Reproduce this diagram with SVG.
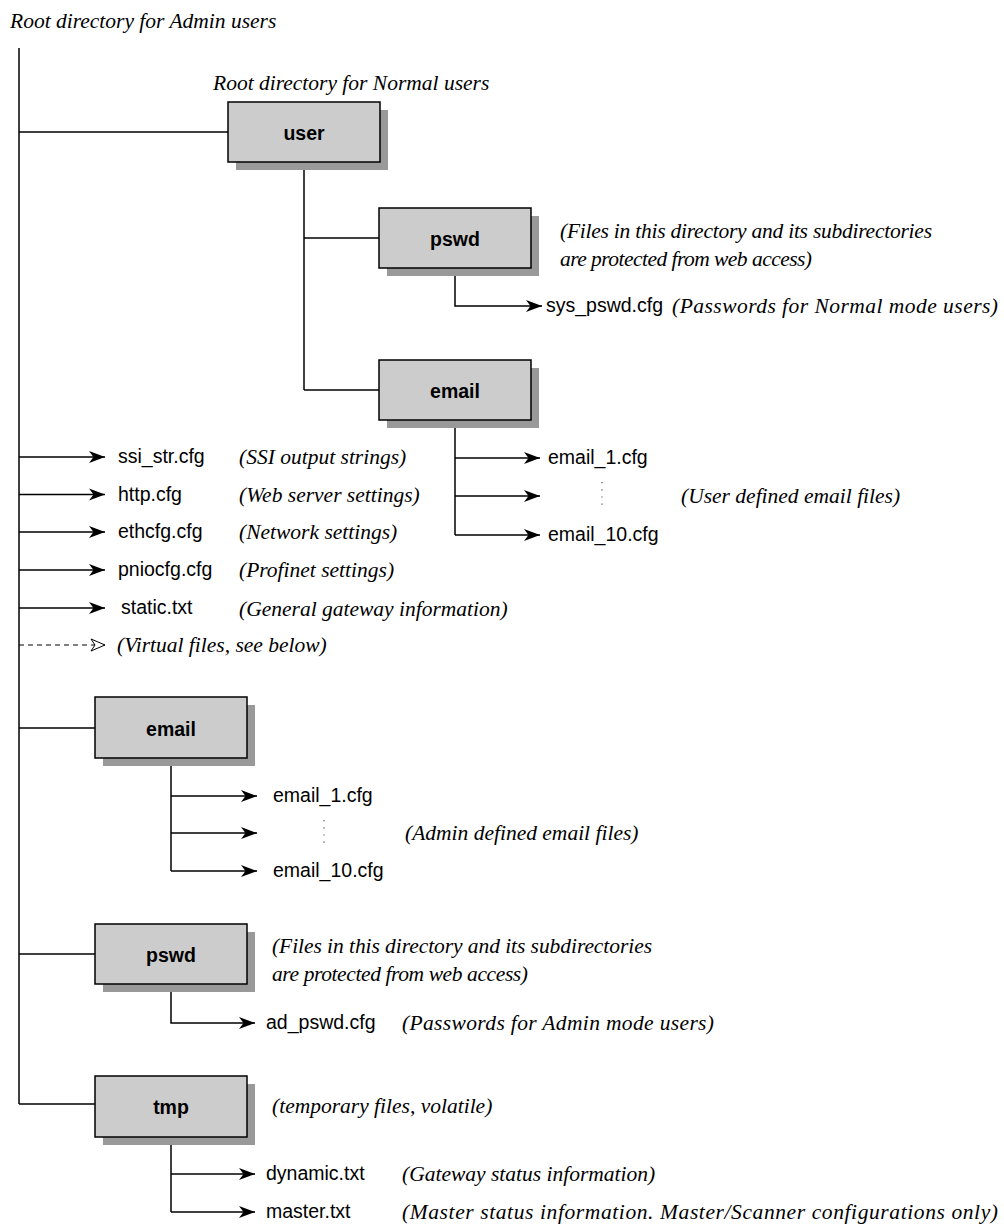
<svg xmlns="http://www.w3.org/2000/svg" width="1004" height="1225" viewBox="0 0 1004 1225">
<style>
.bg{fill:#ffffff}
.ln{stroke:#000;stroke-width:1.5;fill:none}
.arr{stroke:#000;stroke-width:1.5;fill:none;marker-end:url(#ah)}
.dash{stroke:#000;stroke-width:1.2;fill:none;stroke-dasharray:5,4;marker-end:url(#oh)}
.dots{stroke:#555;stroke-width:1.2;stroke-dasharray:1.2,6}
.box{fill:#cccccc;stroke:#000;stroke-width:1.5}
.sh{fill:#999999}
.lbl{font-family:"Liberation Sans",Arial,sans-serif;font-weight:bold;font-size:19.5px;text-anchor:middle;fill:#000}
.f{font-family:"Liberation Sans",Arial,sans-serif;font-size:19.5px;fill:#000}
.c{font-family:"Liberation Serif","Times New Roman",serif;font-style:italic;font-size:21.5px;fill:#000}
</style>
<defs>
<marker id="ah" markerUnits="userSpaceOnUse" markerWidth="16" markerHeight="13" viewBox="0 0 16 13" refX="16" refY="6.5" orient="auto">
<path d="M0,0.5 L16,6.5 L0,12.5 L4.5,6.5 Z" fill="#000"/>
</marker>
<marker id="oh" markerUnits="userSpaceOnUse" markerWidth="16" markerHeight="14" viewBox="0 0 16 14" refX="15" refY="7" orient="auto">
<path d="M1,1 L15,7 L1,13 L5,7 Z" fill="#fff" stroke="#000" stroke-width="1"/>
</marker>
</defs>
<rect class="bg" x="0" y="0" width="1004" height="1225"/>

<g id="titles">
<text class="c" x="10" y="28">Root directory for Admin users</text>
<text class="c" x="213" y="90">Root directory for Normal users</text>
</g>

<g id="connectors">
<path class="ln" d="M19,48 V1104"/>
<path class="ln" d="M19,132 H228"/>
<path class="ln" d="M304,162 V390"/>
<path class="ln" d="M304,238 H379"/>
<path class="ln" d="M304,390 H379"/>
<path class="arr" d="M455,268 V306 H542"/>
<path class="ln" d="M455,420 V535"/>
<path class="arr" d="M455,458 H540"/>
<path class="arr" d="M455,496 H540"/>
<path class="arr" d="M455,535 H540"/>
<path class="arr" d="M19,457 H105"/>
<path class="arr" d="M19,494.5 H105"/>
<path class="arr" d="M19,532 H105"/>
<path class="arr" d="M19,570 H105"/>
<path class="arr" d="M19,608 H105"/>
<path class="dash" d="M19,645 H105"/>
<path class="ln" d="M19,728 H95"/>
<path class="ln" d="M171,758 V871"/>
<path class="arr" d="M171,796 H257"/>
<path class="arr" d="M171,833 H257"/>
<path class="arr" d="M171,871 H257"/>
<path class="ln" d="M19,954 H95"/>
<path class="arr" d="M171,984 V1023 H255"/>
<path class="ln" d="M19,1104 H95"/>
<path class="ln" d="M171,1137 V1212"/>
<path class="arr" d="M171,1174 H255"/>
<path class="arr" d="M171,1212 H255"/>
</g>

<g id="node-user">
<rect class="sh" x="236" y="110" width="152" height="60"/>
<rect class="box" x="228" y="102" width="152" height="60"/>
<text class="lbl" x="304" y="140">user</text>
</g>

<g id="node-user-pswd">
<rect class="sh" x="387" y="216" width="152" height="60"/>
<rect class="box" x="379" y="208" width="152" height="60"/>
<text class="lbl" x="455" y="246">pswd</text>
<text class="c" x="560" y="238" textLength="372" lengthAdjust="spacing">(Files in this directory and its subdirectories</text>
<text class="c" x="560" y="266" textLength="252" lengthAdjust="spacing">are protected from web access)</text>
</g>

<g id="file-sys-pswd">
<text class="f" x="546" y="312">sys_pswd.cfg</text>
<text class="c" x="672" y="313" textLength="326" lengthAdjust="spacing">(Passwords for Normal mode users)</text>
</g>

<g id="node-user-email">
<rect class="sh" x="387" y="368" width="152" height="60"/>
<rect class="box" x="379" y="360" width="152" height="60"/>
<text class="lbl" x="455" y="398">email</text>
</g>

<g id="files-user-email">
<text class="f" x="548" y="464">email_1.cfg</text>
<path class="dots" d="M602,482 V508"/>
<text class="c" x="681" y="503">(User defined email files)</text>
<text class="f" x="548" y="541">email_10.cfg</text>
</g>

<g id="files-root">
<text class="f" x="118" y="463">ssi_str.cfg</text>
<text class="c" x="239" y="464">(SSI output strings)</text>
<text class="f" x="118" y="500.5">http.cfg</text>
<text class="c" x="239" y="501.5">(Web server settings)</text>
<text class="f" x="118" y="538">ethcfg.cfg</text>
<text class="c" x="239" y="539">(Network settings)</text>
<text class="f" x="118" y="576">pniocfg.cfg</text>
<text class="c" x="239" y="577">(Profinet settings)</text>
<text class="f" x="121" y="614">static.txt</text>
<text class="c" x="239" y="616">(General gateway information)</text>
<text class="c" x="117" y="652">(Virtual files, see below)</text>
</g>

<g id="node-admin-email">
<rect class="sh" x="103" y="705" width="152" height="61"/>
<rect class="box" x="95" y="697" width="152" height="61"/>
<text class="lbl" x="171" y="736">email</text>
</g>

<g id="files-admin-email">
<text class="f" x="273" y="802">email_1.cfg</text>
<path class="dots" d="M324,820 V846"/>
<text class="c" x="405" y="840">(Admin defined email files)</text>
<text class="f" x="273" y="877">email_10.cfg</text>
</g>

<g id="node-admin-pswd">
<rect class="sh" x="103" y="932" width="152" height="60"/>
<rect class="box" x="95" y="924" width="152" height="60"/>
<text class="lbl" x="171" y="962">pswd</text>
<text class="c" x="272" y="953" textLength="380" lengthAdjust="spacing">(Files in this directory and its subdirectories</text>
<text class="c" x="272" y="981" textLength="256" lengthAdjust="spacing">are protected from web access)</text>
</g>

<g id="file-ad-pswd">
<text class="f" x="266" y="1029">ad_pswd.cfg</text>
<text class="c" x="402" y="1030" textLength="312" lengthAdjust="spacing">(Passwords for Admin mode users)</text>
</g>

<g id="node-tmp">
<rect class="sh" x="103" y="1084" width="152" height="61"/>
<rect class="box" x="95" y="1076" width="152" height="61"/>
<text class="lbl" x="171" y="1114">tmp</text>
<text class="c" x="272" y="1113">(temporary files, volatile)</text>
</g>

<g id="files-tmp">
<text class="f" x="266" y="1180">dynamic.txt</text>
<text class="c" x="402" y="1181">(Gateway status information)</text>
<text class="f" x="266" y="1218">master.txt</text>
<text class="c" x="402" y="1219" textLength="596" lengthAdjust="spacing">(Master status information. Master/Scanner configurations only)</text>
</g>
</svg>
